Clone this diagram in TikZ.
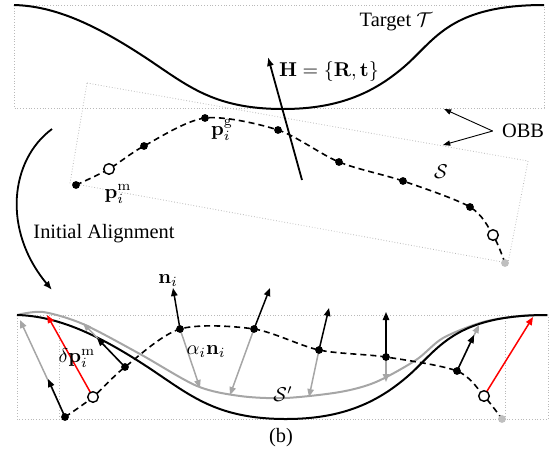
\documentclass[tikz,border=0pt]{standalone}
\usepackage[no-math]{fontspec}
\setmainfont{Liberation Serif}
\usetikzlibrary{arrows.meta}
\newcommand\tgtpath{(14,5) .. controls (55,6) and (95,25) .. (140,54) .. controls (185,83) and (210,109) .. (283,109) .. controls (340,109) and (375,92) .. (405,66) .. controls (435,40) and (450,5) .. (544,5)}
\begin{document}
\begin{tikzpicture}[x=0.5pt,y=-0.5pt,
  font=\fontsize{10.2}{12}\selectfont,
  bbox/.style={draw=gray!55, densely dotted, line width=0.4pt},
  tcurve/.style={line width=1pt},
  gcurve/.style={line width=1pt, draw=gray!70},
  scurve/.style={line width=0.8pt, dash pattern=on 3pt off 2pt},
  fdot/.style={circle, fill=black, inner sep=0pt, minimum size=3.9pt},
  odot/.style={circle, draw=black, fill=white, line width=0.7pt, inner sep=0pt, minimum size=5.3pt},
  gdot/.style={circle, fill=gray!50, inner sep=0pt, minimum size=3.9pt},
  nvec/.style={line width=0.75pt, -{Triangle[length=4pt,width=3.2pt]}},
  gvec/.style={nvec, draw=gray!70},
  rvec/.style={nvec, draw=red},
  thinarr/.style={line width=0.45pt, -{Triangle[length=3.6pt,width=2.6pt]}},
  bigarr/.style={line width=0.9pt, -{Latex[length=4.5pt,width=3.6pt]}},
  lbl/.style={inner sep=0.5pt}
]
\useasboundingbox (0,0) rectangle (552,457);

% ---------- top panel ----------
\draw[bbox] (14,5) rectangle (544,108);
\draw[bbox] (87,83) -- (528,161) -- (508,263) -- (70,183) -- cycle;
\draw[tcurve] \tgtpath;

\coordinate (a0) at (76,185);
\coordinate (a1) at (109,169);
\coordinate (a2) at (144,146);
\coordinate (a3) at (205,118);
\coordinate (a4) at (278,130);
\coordinate (a5) at (339,162);
\coordinate (a6) at (403,181);
\coordinate (a7) at (470,207);
\coordinate (a8) at (493,235);
\coordinate (a9) at (505,263);
\draw[scurve] plot[smooth] coordinates {(a0) (a1) (a2) (a3) (a4) (a5) (a6) (a7) (a8) (a9)};

\coordinate (hs) at (302,180);
\coordinate (ht) at (268,57);
\draw[bigarr] (hs) -- (ht);

\node[fdot] (A0) at (a0) {};
\node[odot] (A1) at (a1) {};
\node[fdot] (A2) at (a2) {};
\node[fdot] (A3) at (a3) {};
\node[fdot] (A4) at (a4) {};
\node[fdot] (A5) at (a5) {};
\node[fdot] (A6) at (a6) {};
\node[fdot] (A7) at (a7) {};
\node[odot] (A8) at (a8) {};
\node[gdot] (A9) at (a9) {};

\node[lbl] (target) at (396,22) {Target $\mathcal{T}$};
\node[lbl] (H) at (329,71) {$\mathbf{H}=\{\mathbf{R},\mathbf{t}\}$};
\node[lbl] (obb) at (523,131) {OBB};
\coordinate (ob1) at (444,109);
\coordinate (ob2) at (443,145);
\draw[thinarr] ([xshift=-4pt]obb.west) -- (ob1);
\draw[thinarr] ([xshift=-4pt]obb.west) -- (ob2);
\node[lbl] (pg) at (222,130) {$\mathbf{p}_i^{\mathrm{g}}$};
\node[lbl] (pm) at (118,194) {$\mathbf{p}_i^{\mathrm{m}}$};
\node[lbl] (S) at (441,172) {$\mathcal{S}$};

% ---------- initial alignment ----------
\coordinate (ia1) at (52,129);
\coordinate (ia2) at (52,290);
\draw[bigarr] (ia1) .. controls (10,160) and (2,230) .. (ia2);
\node[lbl] (ia) at (104,234) {Initial Alignment};

% ---------- bottom panel ----------
\draw[bbox] (17,315) rectangle (548,419);
\draw[bbox] (59,315) -- (59,419);
\draw[bbox] (505,315) -- (505,419);

\draw[gcurve] plot[smooth] coordinates {(17,315) (43,312) (83,324) (140,354) (197,386) (240,396) (285,398) (340,392) (376,382) (416,360) (443,338) (483,322) (520,316) (548,315)};
\begin{scope}[shift={(3,310)}]
\draw[tcurve] \tgtpath;
\end{scope}

\coordinate (b0) at (65,417);
\coordinate (b1) at (93,397);
\coordinate (b2) at (125,367);
\coordinate (b3) at (180,329);
\coordinate (b4) at (254,329);
\coordinate (b5) at (319,350);
\coordinate (b6) at (386,357);
\coordinate (b7) at (457,371);
\coordinate (b8) at (484,396);
\coordinate (b9) at (502,419);
\draw[scurve] plot[smooth] coordinates {(b0) (b1) (b2) (b3) (b4) (b5) (b6) (b7) (b8) (b9)};

% gray vectors (alpha_i n_i)
\coordinate (g0) at (20,320);
\coordinate (g2) at (83,323);
\coordinate (g3) at (200,388);
\coordinate (g4) at (230,395);
\coordinate (g5) at (309,397);
\coordinate (g6) at (386,382);
\coordinate (g7) at (479,325);
\draw[gvec] (b0) -- (g0);
\draw[gvec] (b2) -- (g2);
\draw[gvec] (b3) -- (g3);
\draw[gvec] (b4) -- (g4);
\draw[gvec] (b5) -- (g5);
\draw[gvec] (b6) -- (g6);
\draw[gvec] (b7) -- (g7);

% black normals
\coordinate (n0) at (48,379);
\coordinate (n2) at (97,338);
\coordinate (n3) at (173,288);
\coordinate (n4) at (270,288);
\coordinate (n5) at (329,308);
\coordinate (n6) at (386,312);
\coordinate (n7) at (474,335);
\draw[nvec] (b0) -- (n0);
\draw[nvec] (b2) -- (n2);
\draw[nvec] (b3) -- (n3);
\draw[nvec] (b4) -- (n4);
\draw[nvec] (b5) -- (n5);
\draw[nvec] (b6) -- (n6);
\draw[nvec] (b7) -- (n7);

% red displacement vectors
\coordinate (r1) at (47,315);
\coordinate (r8) at (533,317);
\draw[rvec] (b1) -- (r1);
\draw[rvec] (b8) -- (r8);

\node[fdot] (B0) at (b0) {};
\node[odot] (B1) at (b1) {};
\node[fdot] (B2) at (b2) {};
\node[fdot] (B3) at (b3) {};
\node[fdot] (B4) at (b4) {};
\node[fdot] (B5) at (b5) {};
\node[fdot] (B6) at (b6) {};
\node[fdot] (B7) at (b7) {};
\node[odot] (B8) at (b8) {};
\node[gdot] (B9) at (b9) {};

\node[lbl] (ni) at (168,281) {$\mathbf{n}_i$};
\node[lbl] (ani) at (206,352) {$\alpha_i\mathbf{n}_i$};
\node[lbl] (dp) at (77,358) {$\delta\mathbf{p}_i^{\mathrm{m}}$};
\node[lbl] (Sp) at (283,394) {$\mathcal{S}'$};
\node[lbl] (cap) at (281,438) {(b)};
\end{tikzpicture}
\end{document}
